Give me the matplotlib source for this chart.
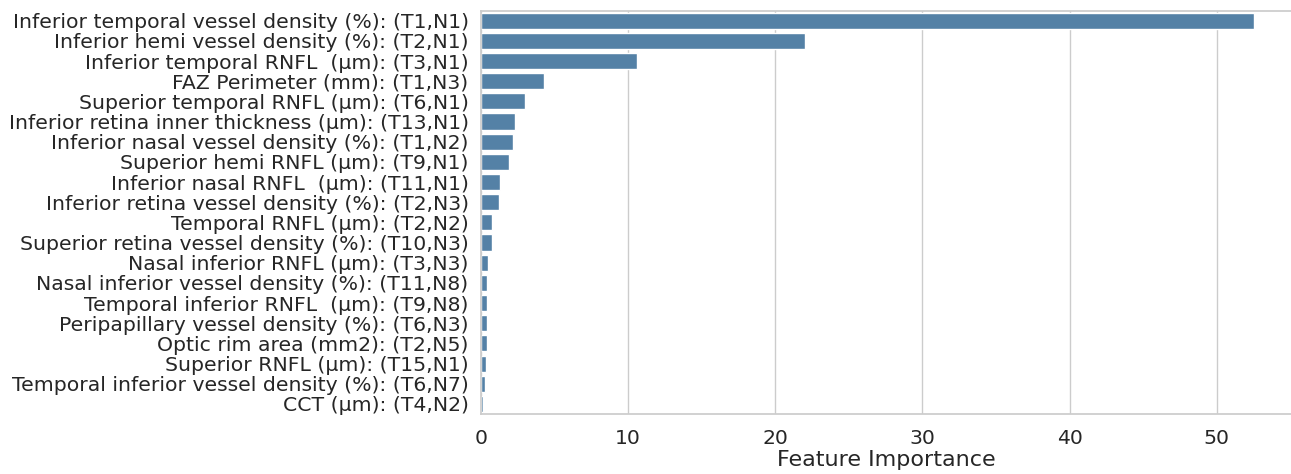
import matplotlib
matplotlib.use("Agg")
import matplotlib.pyplot as plt
import seaborn as sns
import pandas as pd

# feature importance values, sorted largest first
features = [
    "Inferior temporal vessel density (%): (T1,N1)",
    "Inferior hemi vessel density (%): (T2,N1)",
    "Inferior temporal RNFL  (\u00b5m): (T3,N1)",
    "FAZ Perimeter (mm): (T1,N3)",
    "Superior temporal RNFL (\u00b5m): (T6,N1)",
    "Inferior retina inner thickness (\u00b5m): (T13,N1)",
    "Inferior nasal vessel density (%): (T1,N2)",
    "Superior hemi RNFL (\u00b5m): (T9,N1)",
    "Inferior nasal RNFL  (\u00b5m): (T11,N1)",
    "Inferior retina vessel density (%): (T2,N3)",
    "Temporal RNFL (\u00b5m): (T2,N2)",
    "Superior retina vessel density (%): (T10,N3)",
    "Nasal inferior RNFL (\u00b5m): (T3,N3)",
    "Nasal inferior vessel density (%): (T11,N8)",
    "Temporal inferior RNFL  (\u00b5m): (T9,N8)",
    "Peripapillary vessel density (%): (T6,N3)",
    "Optic rim area (mm2): (T2,N5)",
    "Superior RNFL (\u00b5m): (T15,N1)",
    "Temporal inferior vessel density (%): (T6,N7)",
    "CCT (\u00b5m): (T4,N2)",
]
importance = [52.5, 22.0, 10.6, 4.3, 2.97, 2.3, 2.2, 1.9, 1.3, 1.22,
              0.75, 0.75, 0.5, 0.4, 0.38, 0.38, 0.38, 0.37, 0.28, 0.16]

df = pd.DataFrame({"feature": features, "importance": importance})

sns.set_theme(style="whitegrid")
fig = plt.figure(figsize=(12.91, 4.74), dpi=100)
ax = fig.add_axes([0.3726, 0.1266, 0.628, 0.851])
sns.barplot(data=df, x="importance", y="feature", color="steelblue", ax=ax)
ax.set_xlim(0, 55.1)
ax.set_ylabel("")
ax.set_xlabel("Feature Importance", fontsize=16, labelpad=1)
ax.tick_params(axis="both", labelsize=14.7)
ax.tick_params(axis="y", pad=3)
ax.tick_params(axis="x", pad=5)
ax.set_xticks([0, 10, 20, 30, 40, 50])

fig.savefig("out.png", dpi=100)
